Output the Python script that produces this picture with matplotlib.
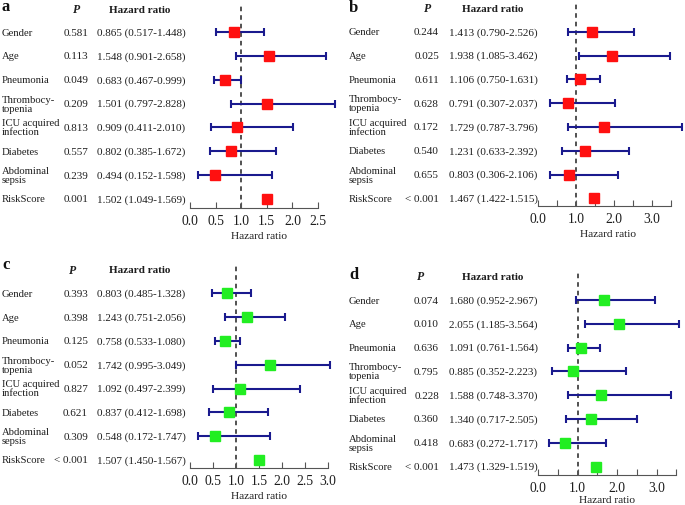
import matplotlib
matplotlib.use('Agg')
import matplotlib.pyplot as plt
import matplotlib.transforms as mtransforms

plt.rcParams['font.family'] = ['Liberation Serif', 'DejaVu Serif']

W, H = 685, 506

labels = ['Gender', 'Age', 'Pneumonia', 'Thrombocy-\ntopenia', 'ICU acquired\ninfection',
          'Diabetes', 'Abdominal\nsepsis', 'RiskScore']

# panel a
p_a = ['0.581', '0.113', '0.049', '0.209', '0.813', '0.557', '0.239', '0.001']
hr_a = [0.865, 1.548, 0.683, 1.501, 0.909, 0.802, 0.494, 1.502]
lo_a = [0.517, 0.901, 0.467, 0.797, 0.411, 0.385, 0.152, 1.049]
hi_a = [1.448, 2.658, 0.999, 2.828, 2.010, 1.672, 1.598, 1.569]

# panel b
p_b = ['0.244', '0.025', '0.611', '0.628', '0.172', '0.540', '0.655', '< 0.001']
hr_b = [1.413, 1.938, 1.106, 0.791, 1.729, 1.231, 0.803, 1.467]
lo_b = [0.790, 1.085, 0.750, 0.307, 0.787, 0.633, 0.306, 1.422]
hi_b = [2.526, 3.462, 1.631, 2.037, 3.796, 2.392, 2.106, 1.515]

# panel c
p_c = ['0.393', '0.398', '0.125', '0.052', '0.827', '0.621', '0.309', '< 0.001']
hr_c = [0.803, 1.243, 0.758, 1.742, 1.092, 0.837, 0.548, 1.507]
lo_c = [0.485, 0.751, 0.533, 0.995, 0.497, 0.412, 0.172, 1.450]
hi_c = [1.328, 2.056, 1.080, 3.049, 2.399, 1.698, 1.747, 1.567]

# panel d
p_d = ['0.074', '0.010', '0.636', '0.795', '0.228', '0.360', '0.418', '< 0.001']
hr_d = [1.680, 2.055, 1.091, 0.885, 1.588, 1.340, 0.683, 1.473]
lo_d = [0.952, 1.185, 0.761, 0.352, 0.748, 0.717, 0.272, 1.329]
hi_d = [2.967, 3.564, 1.564, 2.223, 3.370, 2.505, 1.717, 1.519]

ticks_a = [0.0, 0.5, 1.0, 1.5, 2.0, 2.5]
ticks_b = [0.0, 0.5, 1.0, 1.5, 2.0, 2.5, 3.0, 3.5]
ticks_c = [0.0, 0.5, 1.0, 1.5, 2.0, 2.5, 3.0]
ticks_d = ticks_b

fig = plt.figure(figsize=(6.85, 5.06), dpi=100)

NAVY = '#1a1a8e'
GRAY = '#555555'
TXT = '#1e1e1e'


def panel(letter, pvals, hr, lo, hi, ticks, every_other, color,
          x0, scale, xr, yb, yt, r0, dr, xtext, xp, xhr, xph, xhh, yh, letter_xy, lpad=3):
    ax = fig.add_axes([x0 / W, 1 - yb / H, xr * scale / W, (yb - yt) / H])
    ax.set_xlim(0, xr)
    ax.set_ylim((yb - r0) / dr, (yt - r0) / dr)
    n = len(hr)
    # CI bars (RiskScore shown as square only)
    for i in range(n - 1):
        ax.errorbar(hr[i], i, xerr=[[hr[i] - lo[i]], [hi[i] - hr[i]]], fmt='none',
                    ecolor=NAVY, elinewidth=1.5, capsize=2.7, capthick=1.5,
                    clip_on=False, zorder=2)
    ax.plot(hr, range(n), 's', color=color, markersize=7.2, clip_on=False, zorder=3)
    ax.axvline(1.0, color='#222222', lw=1.1, ls=(0, (3, 2.6)), zorder=1)

    for s in ['top', 'right', 'left']:
        ax.spines[s].set_visible(False)
    ax.spines['bottom'].set_color(GRAY)
    ax.spines['bottom'].set_bounds(ticks[0], ticks[-1])
    ax.set_yticks([])
    ax.set_xticks(ticks)
    if every_other:
        ax.set_xticklabels(['%.1f' % t if k % 2 == 0 else '' for k, t in enumerate(ticks)])
    else:
        ax.set_xticklabels(['%.1f' % t for t in ticks])
    ax.tick_params(axis='x', direction='in', length=4, color=GRAY, labelsize=9.8,
                   pad=4, labelcolor=TXT)
    ax.set_xlabel('Hazard ratio', fontsize=8.2, labelpad=lpad, color=TXT)
    ax.patch.set_alpha(0)

    tr = mtransforms.blended_transform_factory(fig.transFigure, ax.transData)
    for i in range(n):
        ax.text(xtext / W, i, labels[i], transform=tr, ha='left', va='center',
                fontsize=7.7, linespacing=1.0, color=TXT)
        ax.text(xp / W, i, pvals[i], transform=tr, ha='right', va='center',
                fontsize=8, color=TXT)
        ax.text(xhr / W, i, '%.3f (%.3f-%.3f)' % (hr[i], lo[i], hi[i]), transform=tr,
                ha='left', va='center', fontsize=8, color=TXT)
    hy = (yh - r0) / dr
    ax.text(xph / W, hy, 'P', transform=tr, ha='center', va='center', fontsize=8.5,
            fontweight='bold', fontstyle='italic', color=TXT)
    ax.text(xhh / W, hy, 'Hazard ratio', transform=tr, ha='center', va='center',
            fontsize=8, fontweight='bold', color=TXT)
    fig.text(letter_xy[0] / W, 1 - letter_xy[1] / H, letter, fontsize=12,
             fontweight='bold', ha='left', va='center', color='#111111')
    return ax


panel('a', p_a, hr_a, lo_a, hi_a, ticks_a, False, '#ff1010',
      190, 51.2, 2.7, 209, 4, 33, 23.85, 2, 88, 97, 77, 140, 10, (1, 7))
panel('b', p_b, hr_b, lo_b, hi_b, ticks_b, True, '#ff1010',
      538, 38.0, 3.66, 207, 3, 32.7, 23.8, 349, 439, 449, 428, 493, 9, (349, 8))
panel('c', p_c, hr_c, lo_c, hi_c, ticks_c, False, '#22ee22',
      190, 47.3, 2.92, 469, 266, 294.3, 23.8, 2, 88, 97, 73, 140, 271, (2, 265))
panel('d', p_d, hr_d, lo_d, hi_d, ticks_d, True, '#22ee22',
      538, 40.7, 3.4, 476, 272, 301, 23.8, 349, 439, 449, 421, 493, 277, (349, 275),
      lpad=1)

fig.savefig('out.png', dpi=100)
